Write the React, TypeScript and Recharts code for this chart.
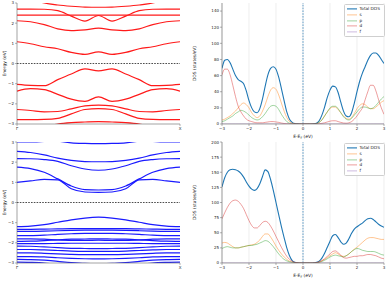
import React from 'react';
import { LineChart, Line, XAxis, YAxis, CartesianGrid, ReferenceLine, Legend, Label } from 'recharts';

const FONT = '"DejaVu Sans", sans-serif';

// ---------- band structure data (k path Γ -> X) ----------
const kPoints = [0, 0.083, 0.167, 0.25, 0.333, 0.417, 0.5, 0.583, 0.667, 0.75, 0.833, 0.917, 1];
const kTickLabels = ['Γ', 'X'];

const redBands: number[][] = [
  [3.4, 3.2, 3.0, 2.9, 2.84, 2.8, 2.79, 2.8, 2.84, 2.9, 3.0, 3.2, 3.4],
  [2.7, 2.7, 2.69, 2.62, 2.35, 2.1, 2.38, 2.1, 2.35, 2.62, 2.69, 2.7, 2.7],
  [2.4, 2.4, 2.4, 2.4, 2.4, 2.4, 2.4, 2.4, 2.4, 2.4, 2.4, 2.4, 2.4],
  [2.12, 2.07, 1.93, 1.72, 1.63, 1.67, 1.75, 1.67, 1.63, 1.72, 1.93, 2.07, 2.12],
  [1.08, 0.98, 0.83, 0.73, 0.55, 0.45, 0.58, 0.45, 0.55, 0.73, 0.83, 0.98, 1.08],
  [-1.03, -1.08, -1.1, -0.8, -0.52, -0.27, -0.37, -0.27, -0.52, -0.8, -1.1, -1.08, -1.03],
  [-1.37, -1.25, -1.3, -1.53, -1.77, -1.88, -1.65, -1.88, -1.77, -1.53, -1.3, -1.25, -1.37],
  [-2.28, -2.33, -2.4, -2.38, -2.25, -2.1, -2.06, -2.1, -2.25, -2.38, -2.4, -2.33, -2.28],
  [-2.78, -2.78, -2.77, -2.72, -2.5, -2.28, -2.24, -2.28, -2.5, -2.72, -2.77, -2.78, -2.78],
  [-3.4, -3.3, -3.15, -3.0, -2.93, -2.9, -2.88, -2.9, -2.93, -3.0, -3.15, -3.3, -3.4],
];

const blueBands: number[][] = [
  [3.0, 3.0, 3.03, 3.1, 3.2, 3.25, 3.27, 3.25, 3.2, 3.1, 3.03, 3.0, 3.0],
  [3.5, 3.35, 3.2, 3.05, 2.96, 2.93, 2.92, 2.93, 2.96, 3.05, 3.2, 3.35, 3.5],
  [2.54, 2.48, 2.36, 2.2, 2.09, 2.03, 2.02, 2.03, 2.09, 2.2, 2.36, 2.48, 2.54],
  [2.18, 2.17, 2.13, 2.04, 1.82, 1.66, 1.6, 1.66, 1.82, 2.04, 2.13, 2.17, 2.18],
  [1.75, 1.68, 1.5, 1.17, 0.82, 0.64, 0.62, 0.64, 0.82, 1.17, 1.5, 1.68, 1.75],
  [1.0, 1.07, 1.15, 1.12, 0.68, 0.52, 0.5, 0.52, 0.68, 1.12, 1.15, 1.07, 1.0],
  [-1.2, -1.17, -1.1, -0.98, -0.86, -0.77, -0.73, -0.77, -0.86, -0.98, -1.1, -1.17, -1.2],
  [-1.33, -1.33, -1.32, -1.31, -1.3, -1.3, -1.3, -1.3, -1.3, -1.31, -1.32, -1.33, -1.33],
  [-1.43, -1.43, -1.42, -1.4, -1.38, -1.37, -1.37, -1.37, -1.38, -1.4, -1.42, -1.43, -1.43],
  [-1.64, -1.64, -1.62, -1.58, -1.55, -1.53, -1.53, -1.53, -1.55, -1.58, -1.62, -1.64, -1.64],
  [-1.8, -1.8, -1.82, -1.86, -1.88, -1.88, -1.87, -1.88, -1.88, -1.86, -1.82, -1.8, -1.8],
  [-1.93, -1.92, -1.89, -1.85, -1.82, -1.81, -1.8, -1.81, -1.82, -1.85, -1.89, -1.92, -1.93],
  [-2.04, -2.04, -2.04, -2.03, -2.02, -2.02, -2.02, -2.02, -2.02, -2.03, -2.04, -2.04, -2.04],
  [-2.16, -2.17, -2.2, -2.24, -2.27, -2.28, -2.29, -2.28, -2.27, -2.24, -2.2, -2.17, -2.16],
  [-2.33, -2.33, -2.35, -2.38, -2.41, -2.42, -2.42, -2.42, -2.41, -2.38, -2.35, -2.33, -2.33],
  [-2.5, -2.5, -2.52, -2.55, -2.57, -2.58, -2.58, -2.58, -2.57, -2.55, -2.52, -2.5, -2.5],
  [-2.68, -2.68, -2.7, -2.74, -2.77, -2.79, -2.8, -2.79, -2.77, -2.74, -2.7, -2.68, -2.68],
  [-2.82, -2.83, -2.86, -2.92, -2.98, -3.02, -3.03, -3.02, -2.98, -2.92, -2.86, -2.83, -2.82],
  [-2.96, -2.97, -3.0, -3.08, -3.15, -3.2, -3.2, -3.2, -3.15, -3.08, -3.0, -2.97, -2.96],
];

const energyTicks = [-3, -2, -1, 0, 1, 2, 3];

// ---------- DOS data (E - E_F from -3 to 3 eV, step 0.1) ----------
const dosEnergies = Array.from({ length: 61 }, (_, i) => Math.round((-3 + i * 0.1) * 10) / 10);

const topTotal = [
  69, 79, 80, 76, 68, 60, 55, 53, 50, 41,
  29, 20, 15, 14, 19, 31, 47, 61, 69, 71,
  68, 58, 44, 29, 15, 6, 2, 0.5, 0.1, 0,
  0, 0, 0, 0, 0.2, 1, 4, 11, 21, 33,
  42, 47, 46, 39, 27, 16, 10, 9, 14, 26,
  40, 53, 63, 71, 79, 85, 88, 88, 85, 80,
  75,
];
const topS = [
  5, 6, 8, 10, 13, 16, 20, 24, 26, 24,
  20, 14, 10, 8, 10, 16, 24, 34, 42, 45,
  43, 36, 26, 16, 8, 3, 1, 0.3, 0, 0,
  0, 0, 0, 0, 0, 0.5, 2, 5, 10, 15,
  19, 21, 21, 18, 14, 10, 7, 6, 8, 13,
  19, 23, 25, 24, 21, 19, 19, 21, 24, 27,
  29,
];
const topP = [
  3, 4, 6, 8, 10, 13, 15, 17, 16, 14,
  11, 8, 6, 5, 6, 9, 13, 18, 22, 23,
  22, 18, 12, 7, 3, 1, 0.3, 0.1, 0, 0,
  0, 0, 0, 0, 0, 0.5, 2, 5, 10, 15,
  20, 22, 22, 19, 14, 9, 6, 5, 7, 11,
  15, 19, 21, 21, 20, 19, 20, 23, 27, 31,
  34,
];
const topD = [
  61, 68, 68, 61, 48, 34, 22, 15, 10, 6,
  4, 3, 2, 1.5, 1.5, 1.5, 2, 2.5, 3, 3,
  2.5, 2, 1.2, 0.6, 0.3, 0.1, 0, 0, 0, 0,
  0, 0, 0, 0, 0, 0, 0.3, 0.8, 1.5, 2.5,
  3.5, 4, 4, 3, 2, 1.2, 1, 1.5, 3, 6,
  10, 15, 20, 30, 40, 48, 48, 41, 30, 20,
  12,
];
const topF = [
  0, 0, 0, 0, 0, 0, 0, 0, 0, 0, 0, 0, 0, 0, 0, 0, 0, 0, 0, 0,
  0, 0, 0, 0, 0, 0, 0, 0, 0, 0, 0, 0, 0, 0, 0, 0, 0, 0, 0, 0,
  0, 0, 0, 0, 0, 0, 0, 0, 0, 0, 0, 0, 0, 0, 0, 0, 0, 0, 0, 0, 0,
];

const botTotal = [
  126, 141, 150, 154, 155, 154, 152, 148, 142, 134,
  127, 122, 120, 123, 131, 143, 154, 151, 138, 120,
  100, 80, 60, 42, 25, 12, 4, 1, 0.3, 0,
  0, 0, 0, 0, 0.3, 1, 3, 8, 16, 26,
  36, 45, 47, 42, 35, 31, 33, 40, 49, 56,
  60, 63, 66, 70, 73, 74, 72, 68, 64, 61,
  59,
];
const botS = [
  33, 34, 33, 30, 27, 25, 25, 26, 27, 28,
  29, 30, 31, 34, 38, 44, 48, 48, 43, 36,
  28, 21, 15, 10, 6, 3, 1.5, 0.5, 0.2, 0,
  0, 0, 0, 0, 0, 0.5, 1.5, 3.5, 6, 9,
  12, 15, 17, 15, 12, 11, 12, 15, 19, 23,
  26, 30, 34, 38, 41, 42, 42, 41, 40, 39,
  39,
];
const botP = [
  24, 26, 27, 26, 25, 25, 25, 26, 27, 28,
  29, 29, 30, 31, 33, 35, 37, 36, 32, 27,
  21, 15, 10, 6, 3.5, 2, 1, 0.4, 0.1, 0,
  0, 0, 0, 0, 0, 0.3, 1, 2.5, 4.5, 7,
  10, 12, 13, 12, 11, 10, 12, 15, 19, 22,
  24, 23, 21, 20, 19, 19, 19, 18, 16, 14,
  13,
];
const botD = [
  73, 83, 92, 99, 103, 104, 102, 97, 90, 80,
  70, 62, 58, 58, 62, 67, 69, 67, 61, 53,
  44, 35, 26, 18, 11, 6, 3, 1, 0.3, 0,
  0, 0, 0, 0, 0, 0.5, 2, 4, 7, 11,
  15, 19, 20, 17, 13, 9, 8, 9, 10, 11,
  11, 12, 12, 13, 14, 14, 13, 12, 10, 8,
  7,
];
const botF = [
  0, 0, 0, 0, 0, 0, 0, 0, 0, 0, 0, 0, 0, 0, 0, 0, 0, 0, 0, 0,
  0, 0, 0, 0, 0, 0, 0, 0, 0, 0, 0, 0, 0, 0, 0, 0, 0, 0, 0, 0,
  0, 0, 0, 0, 0, 0, 0, 0, 0, 0, 0, 0, 0, 0, 0, 0, 0, 0, 0, 0, 0,
];

const topDosTicks = [0, 20, 40, 60, 80, 100, 120, 140];
const botDosTicks = [0, 25, 50, 75, 100, 125, 150, 175, 200];

const dosSeries = [
  { key: 'total', name: 'Total DOS', color: '#1f77b4', opacity: 1, width: 1.1 },
  { key: 's', name: 's', color: '#ff7f0e', opacity: 0.5, width: 0.9 },
  { key: 'p', name: 'p', color: '#2ca02c', opacity: 0.5, width: 0.9 },
  { key: 'd', name: 'd', color: '#d62728', opacity: 0.5, width: 0.9 },
  { key: 'f', name: 'f', color: '#9467bd', opacity: 0.5, width: 0.9 },
];

// ---------- helpers ----------
const minus = (v: number) => String(v).replace('-', '\u2212');
const TICK = { fontSize: 4, fill: '#222', fontFamily: FONT };
const FRAME = '#666';

const yLabel = (text: string, x: number) => (props: any) => {
  const vb = props && props.viewBox ? props.viewBox : { y: 0, height: 120 };
  const cy = vb.y + vb.height / 2;
  return (
    <text x={x} y={cy} transform={`rotate(-90 ${x} ${cy})`} textAnchor="middle" dominantBaseline="central"
      fontSize={4.4} fontFamily={FONT} fill="#222">{text}</text>
  );
};

const xDosLabel = (dy: number) => (props: any) => {
  const vb = props && props.viewBox ? props.viewBox : { x: 0, y: 0, width: 160 };
  const cx = vb.x + vb.width / 2;
  const y = vb.y + dy;
  return (
    <text x={cx} y={y} textAnchor="middle" fontSize={4.4} fontFamily={FONT} fill="#222">
      E-E<tspan fontSize={3.2} dy={1}>F</tspan><tspan dy={-1}> (eV)</tspan>
    </text>
  );
};

function BandChart({ bands, color, height, top }: { bands: number[][]; color: string; height: number; top: number }) {
  const data = kPoints.map((k, i) => {
    const row: Record<string, number> = { k };
    bands.forEach((b, j) => { row['b' + j] = b[i]; });
    return row;
  });
  return (
    <LineChart width={185} height={height} data={data} margin={{ top, right: 5, bottom: 0, left: 0 }}>
      <XAxis dataKey="k" type="number" domain={[0, 1]} ticks={[0, 1]} allowDataOverflow
        tickFormatter={(v: number) => (v === 0 ? kTickLabels[0] : kTickLabels[1])}
        height={height - top - 121} tick={TICK} tickSize={2} tickMargin={1}
        axisLine={{ stroke: FRAME, strokeWidth: 0.6 }} tickLine={{ stroke: FRAME, strokeWidth: 0.5 }} />
      <XAxis xAxisId="top" orientation="top" type="number" domain={[0, 1]} height={0} tick={false} tickLine={false}
        axisLine={{ stroke: FRAME, strokeWidth: 0.6 }} />
      <YAxis type="number" domain={[-3, 3]} ticks={energyTicks} allowDataOverflow width={17}
        tickFormatter={minus} tick={TICK} tickSize={2} tickMargin={1}
        axisLine={{ stroke: FRAME, strokeWidth: 0.6 }} tickLine={{ stroke: FRAME, strokeWidth: 0.5 }}>
        <Label content={yLabel('Energy (eV)', 4)} />
      </YAxis>
      <YAxis yAxisId="right" orientation="right" type="number" domain={[0, 1]} width={0} tick={false} tickLine={false}
        axisLine={{ stroke: FRAME, strokeWidth: 0.6 }} />
      <ReferenceLine y={0} stroke="#000" strokeWidth={0.7} strokeDasharray="1.6 1.2" />
      {bands.map((_, j) => (
        <Line key={j} dataKey={'b' + j} type="monotone" stroke={color} strokeWidth={1.2} dot={false}
          isAnimationActive={false} />
      ))}
    </LineChart>
  );
}

function DosLegend() {
  return (
    <div style={{
      border: '0.6px solid #cfcfcf', borderRadius: 1.5, background: 'rgba(255,255,255,0.85)',
      padding: '1px 2px 1px 2px', fontFamily: FONT, fontSize: 4.2, color: '#222', width: 35,
    }}>
      {dosSeries.map((s) => (
        <div key={s.key} style={{ display: 'flex', alignItems: 'center', height: 5.8 }}>
          <svg width={10} height={5.8} style={{ display: 'block' }}>
            <line x1={0} x2={10} y1={2.9} y2={2.9} stroke={s.color} strokeOpacity={s.opacity} strokeWidth={s.key === 'total' ? 1.1 : 0.9} />
          </svg>
          <span style={{ marginLeft: 2.5, lineHeight: '5.8px', whiteSpace: 'nowrap' }}>{s.name}</span>
        </div>
      ))}
    </div>
  );
}

function DosChart({ total, s, p, d, f, yMax, yTicks, height, top }: {
  total: number[]; s: number[]; p: number[]; d: number[]; f: number[]; yMax: number; yTicks: number[]; height: number; top: number;
}) {
  const data = dosEnergies.map((e, i) => ({ e, total: total[i], s: s[i], p: p[i], d: d[i], f: f[i] }));
  return (
    <LineChart width={199} height={height} data={data} margin={{ top, right: 3, bottom: 0, left: 0 }}>
      <CartesianGrid vertical horizontal={false} stroke="#e3e3e3" strokeWidth={0.6} />
      <XAxis dataKey="e" type="number" domain={[-3, 3]} ticks={energyTicks} allowDataOverflow
        height={height - top - 121} tickFormatter={minus} tick={TICK} tickSize={2} tickMargin={1}
        axisLine={{ stroke: FRAME, strokeWidth: 0.6 }} tickLine={{ stroke: FRAME, strokeWidth: 0.5 }}>
        <Label content={xDosLabel(13.5)} />
      </XAxis>
      <XAxis xAxisId="top" orientation="top" type="number" domain={[0, 1]} height={0} tick={false} tickLine={false}
        axisLine={{ stroke: FRAME, strokeWidth: 0.6 }} />
      <YAxis type="number" domain={[0, yMax]} ticks={yTicks} allowDataOverflow width={34}
        tick={TICK} tickSize={2} tickMargin={1}
        axisLine={{ stroke: FRAME, strokeWidth: 0.6 }} tickLine={{ stroke: FRAME, strokeWidth: 0.5 }}>
        <Label content={yLabel('DOS (states/eV)', 6)} />
      </YAxis>
      <YAxis yAxisId="right" orientation="right" type="number" domain={[0, 1]} width={0} tick={false} tickLine={false}
        axisLine={{ stroke: FRAME, strokeWidth: 0.6 }} />
      <ReferenceLine x={0} stroke="#1f77b4" strokeWidth={0.7} strokeDasharray="1.6 1.2" />
      {dosSeries.map((sr) => (
        <Line key={sr.key} dataKey={sr.key} name={sr.name} type="monotone" stroke={sr.color}
          strokeOpacity={sr.opacity} strokeWidth={sr.width} dot={false} isAnimationActive={false} />
      ))}
      <Legend layout="horizontal" align="center" verticalAlign="middle" content={() => <DosLegend />}
        wrapperStyle={{ top: top + 1, left: 156, width: 40, height: 36 }} />
    </LineChart>
  );
}

export default function App() {
  return (
    <div style={{ position: 'absolute', left: 0, top: 0, width: 387, height: 281, background: '#fff', overflow: 'hidden', fontFamily: FONT }}>
      <div style={{ position: 'absolute', left: 0, top: 0 }}>
        <BandChart bands={redBands} color="#ff1a1a" height={140} top={3} />
      </div>
      <div style={{ position: 'absolute', left: 0, top: 140 }}>
        <BandChart bands={blueBands} color="#1a1aff" height={141} top={2} />
      </div>
      <div style={{ position: 'absolute', left: 188, top: 0 }}>
        <DosChart total={topTotal} s={topS} p={topP} d={topD} f={topF} yMax={150} yTicks={topDosTicks} height={140} top={3} />
      </div>
      <div style={{ position: 'absolute', left: 188, top: 140 }}>
        <DosChart total={botTotal} s={botS} p={botP} d={botD} f={botF} yMax={200} yTicks={botDosTicks} height={141} top={2} />
      </div>
    </div>
  );
}
